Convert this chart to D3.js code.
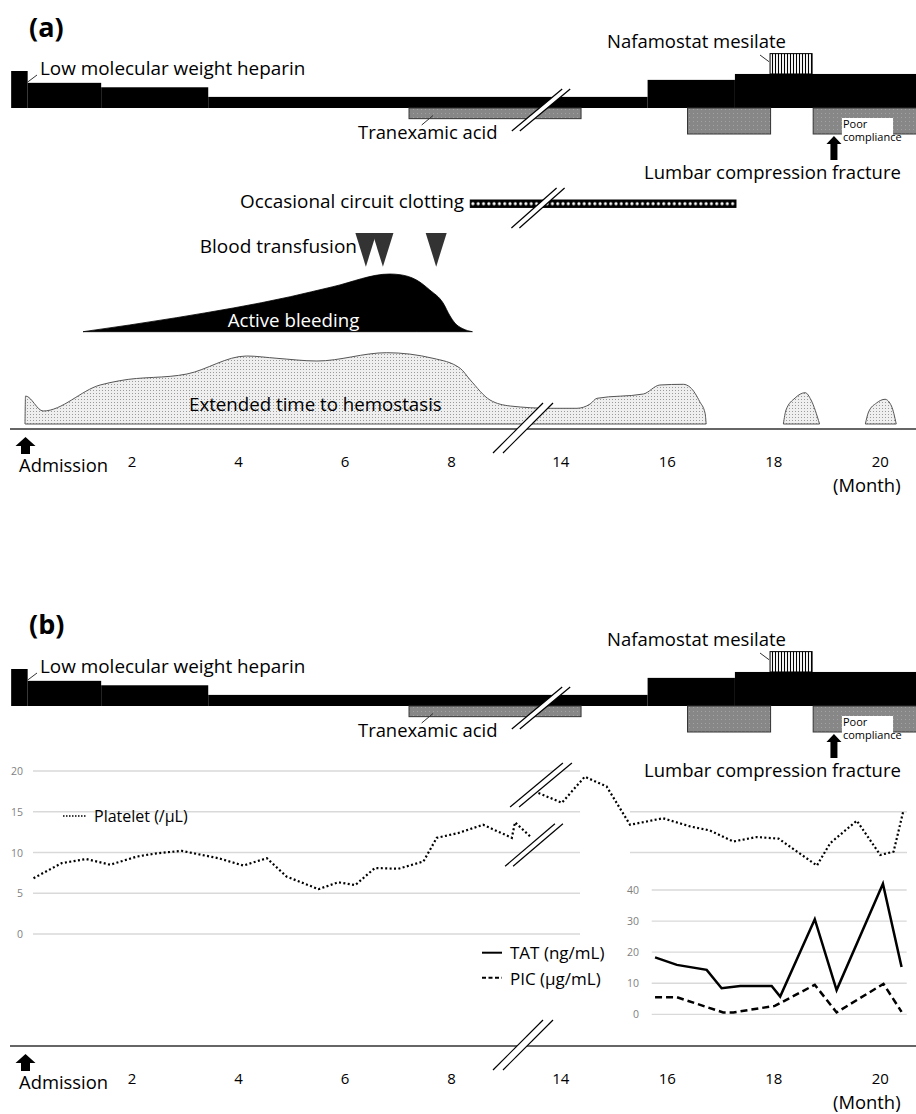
<!DOCTYPE html>
<html>
<head>
<meta charset="utf-8">
<script src="https://cdn.jsdelivr.net/npm/d3@7"></script>
<style>
  body { margin: 0; background: #fff; }
  svg { display: block; font-family: "Open Sans", "Noto Sans", sans-serif; }
</style>
</head>
<body>
<svg id="chart" width="916" height="1114"></svg>
<script>
// ---- data (months since admission; break between ~9.5 and ~13.45) ----
const monthTicks = [2, 4, 6, 8, 14, 16, 18, 20];

const lmwhEdges = [-0.26, 0.05, 1.43, 3.44, 15.64, 17.28, 20.7];
const lmwhDose  = [1.0, 0.68, 0.56, 0.30, 0.76, 0.92];   // relative dose per step

const tranexStart = [7.21, 16.39, 18.75];
const tranexEnd   = [14.39, 17.95, 20.7];
const tranexDose  = [0.41, 1, 1];

const nafamostat = [17.94, 18.73];
const nafamostatDose = 0.55;
const poorCompliance = [19.29, 20.25];
const fractureMonth = 19.14;

const clotting = [8.36, 17.3];
const transfusions = [6.40, 6.72, 7.72];

const bleedMonths = [1.09, 2.84, 4.98, 5.78, 6.85, 7.04, 7.35, 7.60, 7.85, 7.98, 8.07, 8.22, 8.40];
const bleedLevel  = [0, 14, 35, 45, 57.7, 57, 51.7, 41.7, 28.7, 15.7, 8.7, 3, 0];

const hemoMonths = [0, 0.01, 0.34, 1.41, 1.78, 3.04, 4.16, 4.73, 5.48, 6.79, 7.66, 8.17, 8.36, 8.73, 9.11,
                    13.81, 14.31, 14.56, 14.69, 15.56, 15.87, 16.31, 16.44, 16.62, 16.72, 16.74];
const hemoLevel  = [0, 28, 13, 39, 43.3, 50, 68, 65.7, 63, 71.3, 65.7, 55.7, 44, 24, 18,
                    15.7, 15.7, 20, 25.7, 30, 39, 39.7, 36.7, 22.3, 10.7, 0];
const hemoBump1Months = [18.19, 18.24, 18.41, 18.6, 18.71, 18.87];
const hemoBump1Level  = [0, 14, 26, 31.3, 24, 0];
const hemoBump2Months = [19.73, 19.79, 19.94, 20.1, 20.22, 20.31];
const hemoBump2Level  = [0, 12, 21, 24.7, 18, 0];

const plateletTicks = [0, 5, 10, 15, 20];
const plateletLeftMonths = [0.16, 0.69, 1.15, 1.6, 2.1, 2.47, 2.94, 3.63, 4.1, 4.54, 4.91, 5.51, 5.88, 6.2,
                            6.57, 7.01, 7.48, 7.73, 8.14, 8.6, 9.14, 9.2, 9.48];
const plateletLeft = [6.85, 8.7, 9.2, 8.5, 9.5, 9.9, 10.2, 9.3, 8.4, 9.3, 7.05, 5.5, 6.35, 6.0,
                      8.1, 8.0, 8.9, 11.8, 12.4, 13.4, 11.8, 13.7, 12.0];
const plateletRightMonths = [13.59, 14.03, 14.46, 14.87, 15.31, 15.93, 16.44, 16.81, 17.25, 17.69, 18.1,
                             18.82, 19.07, 19.57, 20.01, 20.26, 20.44];
const plateletRight = [17.3, 16.1, 19.3, 18.1, 13.4, 14.2, 13.2, 12.7, 11.35, 11.9, 11.7,
                       8.4, 11.15, 13.9, 9.7, 10.1, 15.0];

const tatTicks = [0, 10, 20, 30, 40];
const tatMonths = [15.78, 16.19, 16.75, 17.03, 17.38, 17.97, 18.13, 18.78, 19.19, 20.06, 20.41];
const tatValues = [18.3, 15.9, 14.3, 8.4, 9.1, 9.1, 5.7, 30.6, 7.8, 42.0, 15.2];
const picMonths = [15.78, 16.19, 17.06, 17.25, 18.03, 18.78, 19.19, 20.07, 20.41];
const picValues = [5.5, 5.5, 0.6, 0.6, 2.7, 9.5, 0.6, 9.8, 0.8];

// ---- layout ----
const PANEL_B_SHIFT = 598;   // top bars of panel (b)
const AXIS_A = 429, AXIS_B = 1046;
const FS = 18.7;             // main label size

const svg = d3.select('#chart');

// broken time axis: months 9.5 and 13.45 meet at the same pixel
const x = d3.scaleLinear().domain([0, 9.5, 13.45, 20.7]).range([25, 531, 531, 917]);
const xBreak = x(9.5);

const yDose = d3.scaleLinear().domain([0, 1]).range([108, 71]);
const yTx   = d3.scaleLinear().domain([0, 1]).range([108, 134]);
const yBleed = d3.scaleLinear().domain([0, 60]).range([331.7, 271.7]);
const yHemo  = d3.scaleLinear().domain([0, 80]).range([424, 344]);
const yPlt   = d3.scaleLinear().domain([0, 20]).range([934, 771]);
const yTat   = d3.scaleLinear().domain([0, 40]).range([1014.3, 890]);

// patterns
const defs = svg.append('defs');
const hatch = defs.append('pattern').attr('id', 'hatch').attr('patternUnits', 'userSpaceOnUse')
  .attr('width', 3).attr('height', 4);
hatch.append('rect').attr('width', 3).attr('height', 4).attr('fill', '#fff');
hatch.append('line').attr('x1', 1.5).attr('x2', 1.5).attr('y1', 0).attr('y2', 4)
  .attr('stroke', '#000').attr('stroke-width', 1.1);

const dots = defs.append('pattern').attr('id', 'dots').attr('patternUnits', 'userSpaceOnUse')
  .attr('width', 5.3).attr('height', 7.4).attr('x', x(clotting[0])).attr('y', 200);
dots.append('rect').attr('width', 5.3).attr('height', 7.4).attr('fill', '#000');
dots.append('circle').attr('cx', 2.65).attr('cy', 3.7).attr('r', 1.55).attr('fill', '#fff');

const stipple = defs.append('pattern').attr('id', 'stipple').attr('patternUnits', 'userSpaceOnUse')
  .attr('width', 3).attr('height', 3);
stipple.append('rect').attr('width', 3).attr('height', 3).attr('fill', '#efefef');
stipple.append('rect').attr('width', 1).attr('height', 1).attr('fill', '#9a9a9a');

const grain = defs.append('pattern').attr('id', 'grain').attr('patternUnits', 'userSpaceOnUse')
  .attr('width', 4).attr('height', 4);
grain.append('rect').attr('width', 4).attr('height', 4).attr('fill', '#878787');
grain.append('rect').attr('x', 1).attr('y', 1).attr('width', 1).attr('height', 1).attr('fill', '#a2a2a2');

// ---- helpers ----
function upArrow(cx, top, bottom, headW, headH, shaftW) {
  return `M${cx},${top} L${cx + headW / 2},${top + headH} L${cx + shaftW / 2},${top + headH}
          L${cx + shaftW / 2},${bottom} L${cx - shaftW / 2},${bottom} L${cx - shaftW / 2},${top + headH}
          L${cx - headW / 2},${top + headH} Z`;
}

function breakMark(g, cx, cy, halfH, ratio, gap) {
  const dx = halfH * ratio;
  const a = [cx - dx - gap / 2, cy + halfH], b = [cx + dx - gap / 2, cy - halfH];
  const c = [cx + dx + gap / 2, cy - halfH], d = [cx - dx + gap / 2, cy + halfH];
  g.append('polygon').attr('points', [a, b, c, d].map(p => p.join(',')).join(' ')).attr('fill', '#fff');
  [[a, b], [d, c]].forEach(([p, q]) => {
    g.append('line').attr('x1', p[0]).attr('y1', p[1]).attr('x2', q[0]).attr('y2', q[1])
      .attr('stroke', '#000').attr('stroke-width', 1.2);
  });
}

function label(g, txt, px, py, size, opts = {}) {
  return g.append('text').attr('x', px).attr('y', py).attr('font-size', size)
    .attr('fill', opts.fill || '#000').attr('text-anchor', opts.anchor || 'start')
    .attr('font-weight', opts.weight || 'normal').text(txt);
}

function leader(g, x1, y1, x2, y2) {
  g.append('line').attr('x1', x1).attr('y1', y1).attr('x2', x2).attr('y2', y2)
    .attr('stroke', '#333').attr('stroke-width', 1);
}

// treatment bars shared by both panels
function drawTreatments(g) {
  g.selectAll('rect.lmwh').data(lmwhDose).join('rect').attr('class', 'lmwh')
    .attr('x', (d, i) => x(lmwhEdges[i]))
    .attr('width', (d, i) => x(lmwhEdges[i + 1]) - x(lmwhEdges[i]))
    .attr('y', d => yDose(d)).attr('height', d => yDose(0) - yDose(d))
    .attr('fill', '#000');

  g.append('rect')
    .attr('x', x(nafamostat[0])).attr('width', x(nafamostat[1]) - x(nafamostat[0]))
    .attr('y', yDose(lmwhDose[5] + nafamostatDose))
    .attr('height', yDose(lmwhDose[5]) - yDose(lmwhDose[5] + nafamostatDose))
    .attr('fill', 'url(#hatch)').attr('stroke', '#000').attr('stroke-width', 1);

  g.selectAll('rect.tx').data(tranexDose).join('rect').attr('class', 'tx')
    .attr('x', (d, i) => x(tranexStart[i]))
    .attr('width', (d, i) => x(tranexEnd[i]) - x(tranexStart[i]))
    .attr('y', yTx(0)).attr('height', d => yTx(d) - yTx(0))
    .attr('fill', 'url(#grain)').attr('stroke', '#333').attr('stroke-width', 1);

  // poor compliance window cut out of the last tranexamic bar
  g.append('rect')
    .attr('x', x(poorCompliance[0])).attr('width', x(poorCompliance[1]) - x(poorCompliance[0]))
    .attr('y', 118).attr('height', 17).attr('fill', '#fff');
  label(g, 'Poor', x(poorCompliance[0]) + 1, 128, 11);
  label(g, 'compliance', x(poorCompliance[0]) + 1, 141, 11);

  g.append('path').attr('d', upArrow(x(fractureMonth), 136, 160, 15, 8, 7)).attr('fill', '#000');
  label(g, 'Lumbar compression fracture', 644, 178.5, 18.5);

  breakMark(g, xBreak + 10, 110, 21, 1.2, 8);

  label(g, 'Low molecular weight heparin', 40, 74.5, 18.9);
  leader(g, 27.7, 82, 37, 75);
  label(g, 'Tranexamic acid', 358, 139, 18.4);
  leader(g, 421.7, 125, 433, 115.5);
  label(g, 'Nafamostat mesilate', 607, 48, 18.5);
  leader(g, 760, 55, 769, 61.7);
}

function drawMonthAxis(g, yLine) {
  g.append('line').attr('x1', 10).attr('x2', 916).attr('y1', yLine).attr('y2', yLine)
    .attr('stroke', '#333').attr('stroke-width', 1.5);
  const ax = g.append('g').attr('transform', `translate(0,${yLine + 38})`)
    .call(d3.axisBottom(x).tickValues(monthTicks).tickSize(0).tickPadding(0).tickFormat(d3.format('d')));
  ax.select('.domain').remove();
  ax.selectAll('text').attr('font-size', 15).attr('font-family', '"Open Sans", sans-serif')
    .attr('fill', '#000').attr('dy', 0);
  g.append('path').attr('d', upArrow(x(0) + 0.5, yLine + 8, yLine + 25, 20, 9, 9)).attr('fill', '#000');
  label(g, 'Admission', 19, yLine + 42.5, 18.4);
  label(g, '(Month)', 833, yLine + 62.5, 18.4);
  breakMark(g, xBreak - 8, yLine - 1, 25, 1.0, 10);
}

// ================= panel (a) =================
const gA = svg.append('g');
label(gA, '(a)', 29, 37, 27, { weight: 'bold' });

// extended time to hemostasis
const hemoArea = d3.area().x(d => x(d[0])).y0(yHemo(0)).y1(d => yHemo(d[1])).curve(d3.curveMonotoneX);
[[hemoMonths, hemoLevel], [hemoBump1Months, hemoBump1Level], [hemoBump2Months, hemoBump2Level]]
  .forEach(([ms, lv]) => {
    gA.append('path').datum(d3.zip(ms, lv)).attr('d', hemoArea)
      .attr('fill', 'url(#stipple)').attr('stroke', '#555').attr('stroke-width', 1);
  });
label(gA, 'Extended time to hemostasis', 189, 411, FS);

drawMonthAxis(gA, AXIS_A);

// active bleeding
const bleedArea = d3.area().x(d => x(d[0])).y0(yBleed(0)).y1(d => yBleed(d[1])).curve(d3.curveMonotoneX);
gA.append('path').datum(d3.zip(bleedMonths, bleedLevel)).attr('d', bleedArea).attr('fill', '#000')
  .attr('stroke', '#000').attr('stroke-width', 0.8);
label(gA, 'Active bleeding', 293.5, 326.7, FS, { fill: '#fff', anchor: 'middle' });

// blood transfusions
gA.selectAll('path.tf').data(transfusions).join('path').attr('class', 'tf')
  .attr('d', m => `M${x(m) - 10.5},233 L${x(m) + 10.5},233 L${x(m)},266.7 Z`)
  .attr('fill', '#333');
label(gA, 'Blood transfusion', 357, 253, 19, { anchor: 'end' });

// occasional circuit clotting
gA.append('rect').attr('x', x(clotting[0])).attr('width', x(clotting[1]) - x(clotting[0]))
  .attr('y', 200).attr('height', 7.4).attr('fill', 'url(#dots)').attr('stroke', '#000').attr('stroke-width', 1);
breakMark(gA, xBreak + 7, 208, 20, 1.13, 8);
label(gA, 'Occasional circuit clotting', 464, 208, 18.9, { anchor: 'end' });

drawTreatments(gA);

// ================= panel (b) =================
const gB = svg.append('g');
label(gB, '(b)', 29, 634, 27, { weight: 'bold' });
drawTreatments(gB.append('g').attr('transform', `translate(0,${PANEL_B_SHIFT})`));

// platelet gridlines and labels
gB.selectAll('line.gl').data(plateletTicks).join('line').attr('class', 'gl')
  .attr('x1', 33).attr('x2', 580).attr('y1', d => yPlt(d)).attr('y2', d => yPlt(d))
  .attr('stroke', '#d9d9d9').attr('stroke-width', 1.3);
gB.selectAll('line.gr').data([10, 15]).join('line').attr('class', 'gr')
  .attr('x1', 630).attr('x2', 907).attr('y1', d => yPlt(d)).attr('y2', d => yPlt(d))
  .attr('stroke', '#d9d9d9').attr('stroke-width', 1.3);
gB.selectAll('text.pl').data(plateletTicks).join('text').attr('class', 'pl')
  .attr('x', 23).attr('y', d => yPlt(d) + 4).attr('text-anchor', 'end')
  .attr('font-size', 10.5).attr('fill', '#7f7f7f').text(d => d);

const pltLine = d3.line().x(d => x(d[0])).y(d => yPlt(d[1]));
[[plateletLeftMonths, plateletLeft], [plateletRightMonths, plateletRight]].forEach(([ms, vs]) => {
  gB.append('path').datum(d3.zip(ms, vs)).attr('d', pltLine).attr('fill', 'none')
    .attr('stroke', '#000').attr('stroke-width', 2.2).attr('stroke-dasharray', '2 2.4');
});
breakMark(gB, xBreak + 3, 845, 21.3, 1.17, 8);
breakMark(gB, xBreak + 10, 785, 22, 1.2, 9);

gB.append('line').attr('x1', 63).attr('x2', 86).attr('y1', 816).attr('y2', 816)
  .attr('stroke', '#000').attr('stroke-width', 1.5).attr('stroke-dasharray', '1.5 1.5');
label(gB, 'Platelet (/μL)', 94, 821.5, 16);

// TAT / PIC inset
gB.selectAll('line.gt').data(tatTicks).join('line').attr('class', 'gt')
  .attr('x1', 651.7).attr('x2', 906.7).attr('y1', d => yTat(d)).attr('y2', d => yTat(d))
  .attr('stroke', '#d9d9d9').attr('stroke-width', 1.3);
gB.selectAll('text.tl').data(tatTicks).join('text').attr('class', 'tl')
  .attr('x', 639).attr('y', d => yTat(d) + 4).attr('text-anchor', 'end')
  .attr('font-size', 10.5).attr('fill', '#7f7f7f').text(d => d);

const tatLine = d3.line().x(d => x(d[0])).y(d => yTat(d[1]));
gB.append('path').datum(d3.zip(tatMonths, tatValues)).attr('d', tatLine).attr('fill', 'none')
  .attr('stroke', '#000').attr('stroke-width', 2.5).attr('stroke-linejoin', 'miter');
gB.append('path').datum(d3.zip(picMonths, picValues)).attr('d', tatLine).attr('fill', 'none')
  .attr('stroke', '#000').attr('stroke-width', 2.5).attr('stroke-dasharray', '7 4');

gB.append('line').attr('x1', 482).attr('x2', 502).attr('y1', 952.7).attr('y2', 952.7)
  .attr('stroke', '#000').attr('stroke-width', 2);
label(gB, 'TAT (ng/mL)', 510, 959.3, 17);
gB.append('line').attr('x1', 482).attr('x2', 502).attr('y1', 977.7).attr('y2', 977.7)
  .attr('stroke', '#000').attr('stroke-width', 2).attr('stroke-dasharray', '4 2.5');
label(gB, 'PIC (µg/mL)', 510, 985, 17);

drawMonthAxis(gB, AXIS_B);
</script>
</body>
</html>
